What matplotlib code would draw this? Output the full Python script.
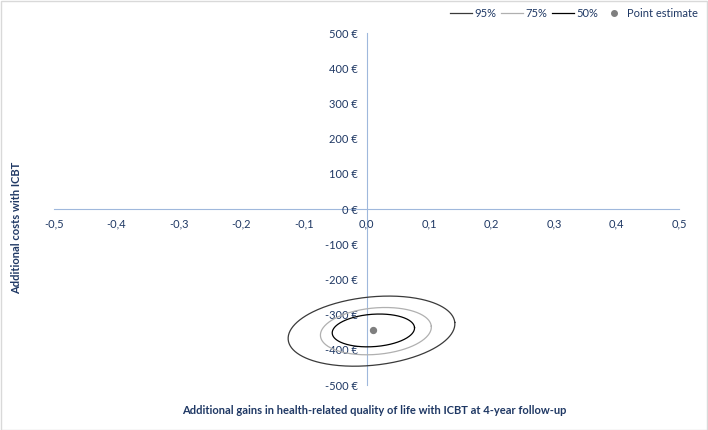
import numpy as np
import matplotlib.pyplot as plt
from matplotlib.patches import Rectangle
from matplotlib.lines import Line2D

plt.rcParams['font.family'] = ['Lato', 'DejaVu Sans']

# ticks
x_ticks = [-0.5, -0.4, -0.3, -0.2, -0.1, 0.0, 0.1, 0.2, 0.3, 0.4, 0.5]
x_labels = ['-0,5', '-0,4', '-0,3', '-0,2', '-0,1', '0,0', '0,1', '0,2', '0,3', '0,4', '0,5']
y_ticks = [-500, -400, -300, -200, -100, 0, 100, 200, 300, 400, 500]
y_labels = ['-500 €', '-400 €', '-300 €', '-200 €', '-100 €', '0 €',
            '100 €', '200 €', '300 €', '400 €', '500 €']

# confidence ellipses: center, semi-axis along x (QALY), semi-axis along y (€), tilt (deg on screen)
ell_labels = ['95%', '75%', '50%']
ell_cx = [0.008, 0.015, 0.011]
ell_cy = [-347, -347, -345]
ell_ax = [0.134, 0.089, 0.066]
ell_ay = [97, 66, 46]
ell_tilt = [6, 5, 4]
ell_colors = ['#3a3a3a', '#b0b0b0', '#000000']

point_x = [0.01]
point_y = [-345]

text_col = '#1f3864'
axis_col = '#9fb8dc'

fig = plt.figure(figsize=(7.08, 4.30), dpi=100)
ax = fig.add_axes([54 / 708, 45 / 430, 625 / 708, 352 / 430])
ax.set_xlim(-0.5, 0.5)
ax.set_ylim(-500, 500)

# y-units per x-unit giving equal screen length, so the tilt is a true screen rotation
pos = ax.get_position()
k = (1000 / 1.0) * (pos.width * 7.08) / (pos.height * 4.30)

t = np.linspace(0, 2 * np.pi, 300)
for i in range(len(ell_labels)):
    th = np.radians(ell_tilt[i])
    u = ell_ax[i] * np.cos(t)
    v = (ell_ay[i] / k) * np.sin(t)
    ur = u * np.cos(th) - v * np.sin(th)
    vr = u * np.sin(th) + v * np.cos(th)
    ax.plot(ell_cx[i] + ur, ell_cy[i] + vr * k, color=ell_colors[i], linewidth=0.9)

ax.scatter(point_x, point_y, s=18, color='#7f7f7f', zorder=5)

ax.spines['top'].set_visible(False)
ax.spines['right'].set_visible(False)
ax.spines['left'].set_position(('data', 0))
ax.spines['bottom'].set_position(('data', 0))
ax.spines['left'].set_color(axis_col)
ax.spines['bottom'].set_color(axis_col)
ax.spines['left'].set_zorder(0)
ax.spines['bottom'].set_zorder(0)

ax.set_xticks(x_ticks)
ax.set_xticklabels(x_labels)
ax.set_yticks(y_ticks)
ax.set_yticklabels(y_labels)
ax.tick_params(axis='both', length=0, labelsize=8, labelcolor=text_col)
ax.tick_params(axis='x', pad=7)
ax.tick_params(axis='y', pad=6)
ax.patch.set_visible(False)

fig.text(17 / 708, 1 - 228 / 430, 'Additional costs with ICBT', rotation=90,
         ha='center', va='center', fontsize=8, fontweight='bold', color=text_col)
fig.text(374 / 708, 1 - 410 / 430,
         'Additional gains in health-related quality of life with ICBT at 4-year follow-up',
         ha='center', va='center', fontsize=8, fontweight='bold', color=text_col)

handles = [Line2D([], [], color=ell_colors[i], linewidth=0.9) for i in range(3)]
handles.append(Line2D([], [], color='#7f7f7f', marker='o', linestyle='none', markersize=4))
fig.legend(handles, ell_labels + ['Point estimate'], loc='upper right',
           bbox_to_anchor=(1.0, 1.005), ncol=4, frameon=False, fontsize=8,
           labelcolor=text_col, handlelength=2.0, handletextpad=0.2,
           columnspacing=0.4)

fig.patches.append(Rectangle((0.001, 0.001), 0.997, 0.997, transform=fig.transFigure,
                             fill=False, edgecolor='#d9d9d9', linewidth=1))

fig.savefig('out.png', dpi=100)
